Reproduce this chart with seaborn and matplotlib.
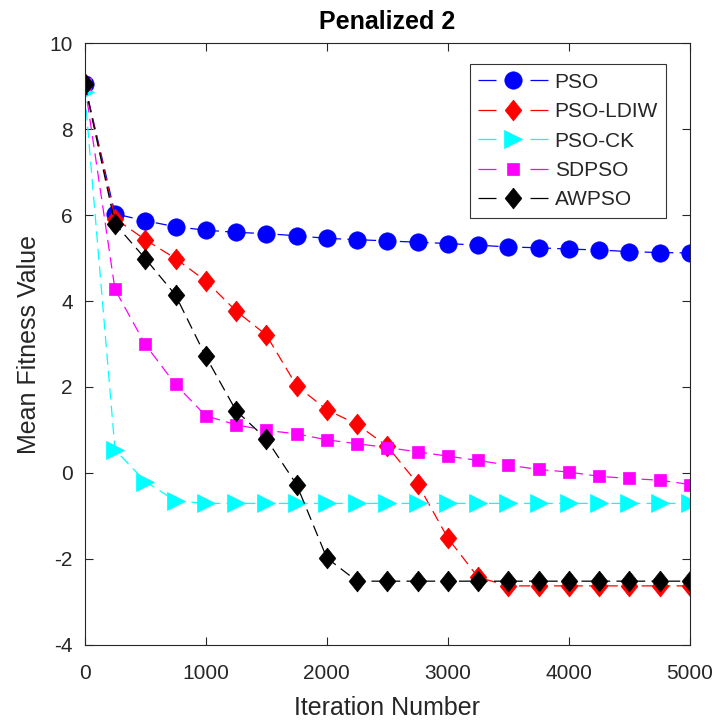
import numpy as np
import pandas as pd
import matplotlib
matplotlib.use("Agg")
import matplotlib.pyplot as plt
from matplotlib.lines import Line2D
import seaborn as sns

iterations = list(range(0, 5001, 250))

pso = [9.05, 6.03, 5.87, 5.73, 5.65, 5.60, 5.57, 5.52, 5.46, 5.43, 5.40,
       5.37, 5.34, 5.30, 5.26, 5.24, 5.21, 5.19, 5.15, 5.13, 5.12]
pso_ldiw = [9.05, 5.92, 5.43, 4.99, 4.47, 3.77, 3.21, 2.03, 1.47, 1.13, 0.62,
            -0.25, -1.52, -2.43, -2.63, -2.63, -2.63, -2.63, -2.63, -2.63, -2.63]
pso_ck = [8.87, 0.54, -0.20, -0.65, -0.71, -0.71, -0.71, -0.71, -0.71, -0.71, -0.71,
          -0.71, -0.71, -0.71, -0.71, -0.71, -0.71, -0.71, -0.71, -0.71, -0.71]
sdpso = [9.05, 4.27, 2.99, 2.06, 1.33, 1.12, 0.99, 0.91, 0.77, 0.68, 0.59,
         0.49, 0.39, 0.29, 0.18, 0.08, 0.02, -0.08, -0.13, -0.17, -0.27]
awpso = [9.05, 5.80, 4.99, 4.14, 2.71, 1.45, 0.79, -0.27, -1.98, -2.52, -2.52,
         -2.52, -2.52, -2.52, -2.52, -2.52, -2.52, -2.52, -2.52, -2.52, -2.52]

series_names = ["PSO", "PSO-LDIW", "PSO-CK", "SDPSO", "AWPSO"]
series_values = [pso, pso_ldiw, pso_ck, sdpso, awpso]
colors = ["#0000ff", "#ff0000", "#00ffff", "#ff00ff", "#000000"]

diamond = [(0, 1), (0.8, 0), (0, -1), (-0.8, 0), (0, 1)]
markers = ["o", diamond, ">", "s", diamond]
msizes = [12.5, 15, 12.5, 9, 15]

x_ticks = [0, 1000, 2000, 3000, 4000, 5000]
y_ticks = [-4, -2, 0, 2, 4, 6, 8, 10]

sns.set_style("white")
plt.rcParams['font.family'] = ['Liberation Sans', 'DejaVu Sans']
plt.rcParams['axes.unicode_minus'] = False

fig = plt.figure(figsize=(7.18, 7.22), dpi=100)
ax = fig.add_axes([0.118, 0.107, 0.843, 0.833])

for name, vals, c, m, ms in zip(series_names, series_values, colors, markers, msizes):
    df = pd.DataFrame({"Iteration": iterations, "Value": vals})
    sns.lineplot(data=df, x="Iteration", y="Value", ax=ax, color=c,
                 marker=m, markersize=ms, markeredgecolor=c, markerfacecolor=c,
                 markeredgewidth=0.5,
                 linewidth=0.9, linestyle=(0, (9, 5)), label=name)

ax.set_xlim(0, 5000)
ax.set_ylim(-4, 10)
ax.set_xticks(x_ticks)
ax.set_yticks(y_ticks)
ax.tick_params(direction="in", length=6, width=0.8, colors="#262626",
               labelsize=15, top=True, right=True, bottom=True, left=True)
ax.tick_params(axis="x", pad=14)
ax.tick_params(axis="y", pad=8.5)
for sp in ax.spines.values():
    sp.set_visible(True)
    sp.set_color("#262626")
    sp.set_linewidth(0.8)
ax.set_xlabel("Iteration Number", fontsize=18, color="#262626", labelpad=9)
ax.set_ylabel("Mean Fitness Value", fontsize=18, color="#262626", labelpad=6)
ax.set_title("Penalized 2", fontsize=18, fontweight="bold", color="#000000", pad=10)

# legend proxies mimic the split-line legend glyphs
handles = [Line2D([], [], color=c, marker=m, markersize=ms, markerfacecolor=c,
                  markeredgecolor=c, markeredgewidth=0.5, linewidth=0.9,
                  linestyle=(0, (14.4, 27.2)))
           for c, m, ms in zip(colors, markers, msizes)]
leg = ax.legend(handles, series_names, loc="upper right",
                bbox_to_anchor=(0.961, 0.965), fontsize=15,
                frameon=True, fancybox=False, edgecolor="#000000",
                handlelength=3.36, borderpad=0.4, labelspacing=0.5,
                handletextpad=0.3, borderaxespad=0)
leg.get_frame().set_linewidth(0.8)

fig.savefig("out.png", dpi=100)
